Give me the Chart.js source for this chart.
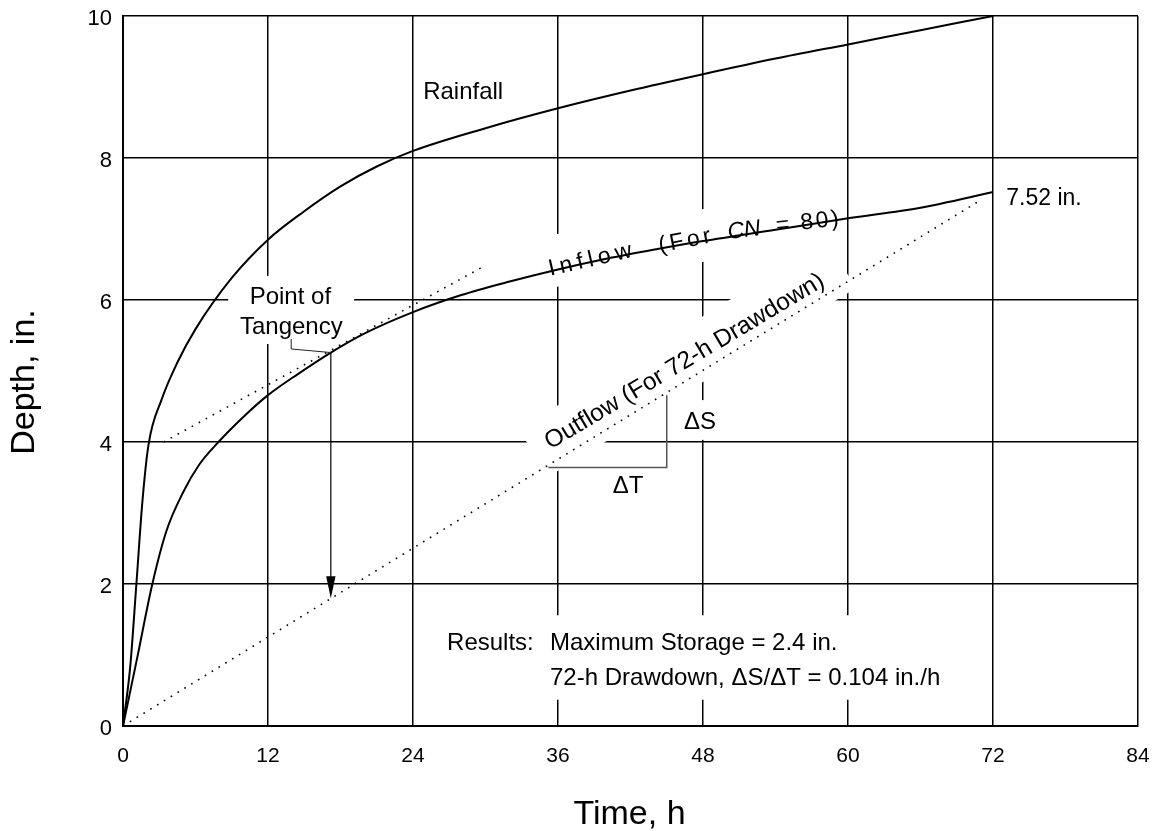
<!DOCTYPE html>
<html>
<head>
<meta charset="utf-8">
<script src="https://cdn.jsdelivr.net/npm/chart.js@4.4.1/dist/chart.umd.min.js"></script>
<style>
  html, body { margin: 0; padding: 0; background: #fff; }
  canvas { display: block; }
</style>
</head>
<body>
<canvas id="chart" width="1156" height="831"></canvas>
<script>
// Cumulative depth (in.) against time (h)
const rainfallTime  = [0, 0.6, 1.1, 1.6, 2.1, 3.2, 4.5, 6, 9, 12, 15, 18, 21, 24, 30, 36, 42, 48, 54, 60, 66, 72];
const rainfallDepth = [0, 0.84, 1.98, 3.15, 3.95, 4.6, 5.12, 5.59, 6.31, 6.85, 7.25, 7.6, 7.88, 8.1, 8.42, 8.7, 8.95, 9.18, 9.4, 9.6, 9.8, 10.0];

const inflowTime  = [0, 1.2, 2.4, 3.6, 5.0, 6.3, 7.9, 10, 12, 14.5, 17.2, 20, 24, 28, 32, 36, 40, 44, 48, 54, 60, 66, 72];
const inflowDepth = [0, 0.98, 1.98, 2.75, 3.3, 3.68, 4.0, 4.36, 4.66, 4.96, 5.26, 5.53, 5.83, 6.07, 6.26, 6.43, 6.58, 6.71, 6.83, 6.99, 7.15, 7.30, 7.52];

const outflowTime  = [0, 71];
const outflowDepth = [0, 7.41];

const tangentTime  = [3.36, 29.6];
const tangentDepth = [4.0, 6.45];

// Point of tangency and the foot of the arrow on the outflow line
const tangencyTime = 17.2;
const tangencyDepth = 5.26;
const arrowTipDepth = 1.80;

const xTickValues = [0, 12, 24, 36, 48, 60, 72, 84];
const yTickValues = [0, 2, 4, 6, 8, 10];

const FONT = '"Liberation Sans", Arial, Helvetica, sans-serif';

const toPoints = (xs, ys) => xs.map((x, i) => ({ x: x, y: ys[i] }));

// Annotation layout, in data units of the two axes
const notes = {
  rainfall: { text: 'Rainfall', t: 24.84, d: 8.83, size: 24 },
  finalDepth: { text: '7.52 in.', t: 73.1, d: 7.34, size: 23 },
  pointOf: { text: 'Point of', t: 13.85, d: 5.95, size: 24 },
  tangency: { text: 'Tangency', t: 13.93, d: 5.52, size: 24 },
  resultsHead: { text: 'Results:', t: 26.82, d: 1.07, size: 24 },
  results1: { text: 'Maximum Storage = 2.4 in.', t: 35.34, d: 1.07, size: 24 },
  results2: { text: '72-h Drawdown, \u0394S/\u0394T = 0.104 in./h', t: 35.34, d: 0.577, size: 24 },
  dS: { text: '\u0394S', t: 47.75, d: 4.28, size: 24 },
  dT: { text: '\u0394T', t: 41.8, d: 3.38, size: 24 },
  outflow: { text: 'Outflow (For 72-h Drawdown)', t: 35.35, d: 3.89, size: 24.5 }
};

const inflowLabel = [
  { text: 'Inflow', t: 35.35, d: 6.34, angle: -13, spacing: 5, italic: false },
  { text: '(For',   t: 44.45, d: 6.67, angle: -11, spacing: 3.5, italic: false },
  { text: 'CN',     t: 50.1,  d: 6.86, angle: -7, spacing: 0, italic: true },
  { text: '= 80)',  t: 54.1,  d: 6.95, angle: -6.5, spacing: 2.5, italic: false }
];

// White backgrounds that interrupt the grid behind labels
const gridMasks = [
  { t0: 8.71, t1: 19.13, d0: 5.38, d1: 6.34 },
  { t0: 26.24, t1: 68.43, d0: 0.37, d1: 1.56 },
  { t0: 46.1, t1: 49.6, d0: 4.03, d1: 4.59 }
];

const leader = { t: [13.92, 13.92, tangencyTime], d: [5.45, 5.31, tangencyDepth] };
const slopeBracket = { t: [35.2, 45.0, 45.0], d: [3.64, 3.64, 4.66] };

const annotationPlugin = {
  id: 'drawdownNotes',
  beforeDatasetsDraw(chart) {
    const ctx = chart.ctx;
    const xs = chart.scales.x, ys = chart.scales.y;
    const X = v => xs.getPixelForValue(v);
    const Y = v => ys.getPixelForValue(v);
    ctx.save();
    ctx.fillStyle = '#fff';
    gridMasks.forEach(m => {
      ctx.fillRect(X(m.t0), Y(m.d1), X(m.t1) - X(m.t0), Y(m.d0) - Y(m.d1));
    });

    // rotated mask behind the outflow label
    const o = notes.outflow;
    ctx.font = o.size + 'px ' + FONT;
    const ow = ctx.measureText(o.text).width;
    const oAng = Math.atan2(Y(outflowDepth[1]) - Y(outflowDepth[0]), X(outflowTime[1]) - X(outflowTime[0]));
    ctx.save();
    ctx.translate(X(o.t), Y(o.d));
    ctx.rotate(oAng);
    ctx.fillRect(-16, -34, ow + 40, 56);
    ctx.restore();

    // rotated mask behind the inflow label
    const f = inflowLabel[0];
    ctx.save();
    ctx.translate(X(f.t), Y(f.d));
    ctx.rotate(-9.7 * Math.PI / 180);
    ctx.fillRect(-10, -40, 305, 52);
    ctx.restore();
    ctx.restore();
  },
  afterDatasetsDraw(chart) {
    const ctx = chart.ctx;
    const xs = chart.scales.x, ys = chart.scales.y;
    const X = v => xs.getPixelForValue(v);
    const Y = v => ys.getPixelForValue(v);
    ctx.save();
    ctx.fillStyle = '#000';
    ctx.strokeStyle = '#000';

    const put = (n, align, baseline) => {
      ctx.font = n.size + 'px ' + FONT;
      ctx.textAlign = align;
      ctx.textBaseline = baseline;
      ctx.fillText(n.text, X(n.t), Y(n.d));
    };
    put(notes.rainfall, 'left', 'alphabetic');
    put(notes.finalDepth, 'left', 'alphabetic');
    put(notes.pointOf, 'center', 'alphabetic');
    put(notes.tangency, 'center', 'alphabetic');
    put(notes.resultsHead, 'left', 'alphabetic');
    put(notes.results1, 'left', 'alphabetic');
    put(notes.results2, 'left', 'alphabetic');
    put(notes.dS, 'center', 'middle');
    put(notes.dT, 'center', 'middle');

    // outflow label, parallel to the drawdown line
    const o = notes.outflow;
    const oAng = Math.atan2(Y(outflowDepth[1]) - Y(outflowDepth[0]), X(outflowTime[1]) - X(outflowTime[0]));
    ctx.save();
    ctx.translate(X(o.t), Y(o.d));
    ctx.rotate(oAng + 0.012);
    ctx.font = o.size + 'px ' + FONT;
    ctx.textAlign = 'left';
    ctx.textBaseline = 'alphabetic';
    ctx.fillText(o.text, 0, 0);
    ctx.restore();

    // inflow label, following the curve piece by piece
    inflowLabel.forEach(p => {
      ctx.save();
      ctx.translate(X(p.t), Y(p.d));
      ctx.rotate(p.angle * Math.PI / 180);
      ctx.font = (p.italic ? 'italic ' : '') + '23px ' + FONT;
      ctx.letterSpacing = p.spacing + 'px';
      ctx.textAlign = 'left';
      ctx.textBaseline = 'alphabetic';
      ctx.fillText(p.text, 0, 0);
      ctx.restore();
    });
    ctx.letterSpacing = '0px';

    // leader from the "Tangency" label to the curve
    ctx.lineWidth = 1;
    ctx.strokeStyle = '#222';
    ctx.beginPath();
    leader.t.forEach((t, i) => {
      if (i === 0) ctx.moveTo(X(t), Y(leader.d[i]));
      else ctx.lineTo(X(t), Y(leader.d[i]));
    });
    ctx.stroke();

    // ΔS / ΔT bracket under the outflow line
    ctx.lineWidth = 1.5;
    ctx.strokeStyle = '#555';
    ctx.beginPath();
    slopeBracket.t.forEach((t, i) => {
      if (i === 0) ctx.moveTo(X(t), Y(slopeBracket.d[i]));
      else ctx.lineTo(X(t), Y(slopeBracket.d[i]));
    });
    ctx.stroke();

    // arrow from the point of tangency down to the outflow line
    const ax = X(tangencyTime);
    const ay0 = Y(tangencyDepth);
    const ay1 = Y(arrowTipDepth);
    ctx.strokeStyle = '#000';
    ctx.lineWidth = 1.2;
    ctx.beginPath();
    ctx.moveTo(ax, ay0);
    ctx.lineTo(ax, ay1 - 20);
    ctx.stroke();
    ctx.fillStyle = '#000';
    ctx.beginPath();
    ctx.moveTo(ax - 4.7, ay1 - 22);
    ctx.lineTo(ax + 4.7, ay1 - 22);
    ctx.lineTo(ax, ay1);
    ctx.closePath();
    ctx.fill();

    // axis titles
    const area = chart.chartArea;
    ctx.fillStyle = '#000';
    ctx.font = '34px ' + FONT;
    ctx.textAlign = 'center';
    ctx.textBaseline = 'middle';
    ctx.fillText('Time, h', (area.left + area.right) / 2 - 1, 815);
    ctx.save();
    ctx.translate(25, (area.top + area.bottom) / 2 + 11);
    ctx.rotate(-Math.PI / 2);
    ctx.fillText('Depth, in.', 0, 0);
    ctx.restore();

    ctx.restore();
  }
};

new Chart(document.getElementById('chart'), {
  type: 'scatter',
  data: {
    datasets: [
      {
        label: 'Rainfall',
        data: toPoints(rainfallTime, rainfallDepth),
        showLine: true,
        borderColor: '#000',
        borderWidth: 2,
        pointRadius: 0,
        cubicInterpolationMode: 'monotone'
      },
      {
        label: 'Inflow (For CN = 80)',
        data: toPoints(inflowTime, inflowDepth),
        showLine: true,
        borderColor: '#000',
        borderWidth: 2,
        pointRadius: 0,
        cubicInterpolationMode: 'monotone'
      },
      {
        label: 'Outflow (For 72-h Drawdown)',
        data: toPoints(outflowTime, outflowDepth),
        showLine: true,
        borderColor: '#000',
        borderWidth: 1.6,
        borderDash: [1.6, 6.4],
        pointRadius: 0
      },
      {
        label: 'Tangent',
        data: toPoints(tangentTime, tangentDepth),
        showLine: true,
        borderColor: '#000',
        borderWidth: 1.6,
        borderDash: [1.6, 6.4],
        pointRadius: 0
      }
    ]
  },
  options: {
    responsive: false,
    animation: false,
    devicePixelRatio: 1,
    layout: { padding: { top: 16, right: 18, bottom: 0, left: 0 } },
    plugins: {
      legend: { display: false },
      tooltip: { enabled: false }
    },
    scales: {
      x: {
        type: 'linear',
        min: 0,
        max: 84,
        afterBuildTicks: s => { s.ticks = xTickValues.map(v => ({ value: v })); },
        afterFit: s => {
          s.height = 105;
          s.paddingLeft = 0;
          s.paddingRight = 0;
        },
        grid: { color: '#000', lineWidth: 1.5, drawTicks: false },
        border: { color: '#000', width: 2 },
        ticks: {
          color: '#000',
          font: { family: FONT, size: 21 },
          padding: 18,
          maxRotation: 0,
          autoSkip: false
        }
      },
      y: {
        type: 'linear',
        min: 0,
        max: 10,
        afterBuildTicks: s => { s.ticks = yTickValues.map(v => ({ value: v })); },
        afterFit: s => {
          s.width = 123;
          s.paddingTop = 0;
          s.paddingBottom = 0;
        },
        grid: { color: '#000', lineWidth: 1.5, drawTicks: false },
        border: { color: '#000', width: 2 },
        ticks: {
          color: '#000',
          font: { family: FONT, size: 22 },
          padding: 11,
          labelOffset: 3,
          autoSkip: false
        }
      }
    }
  },
  plugins: [annotationPlugin]
});
</script>
</body>
</html>
